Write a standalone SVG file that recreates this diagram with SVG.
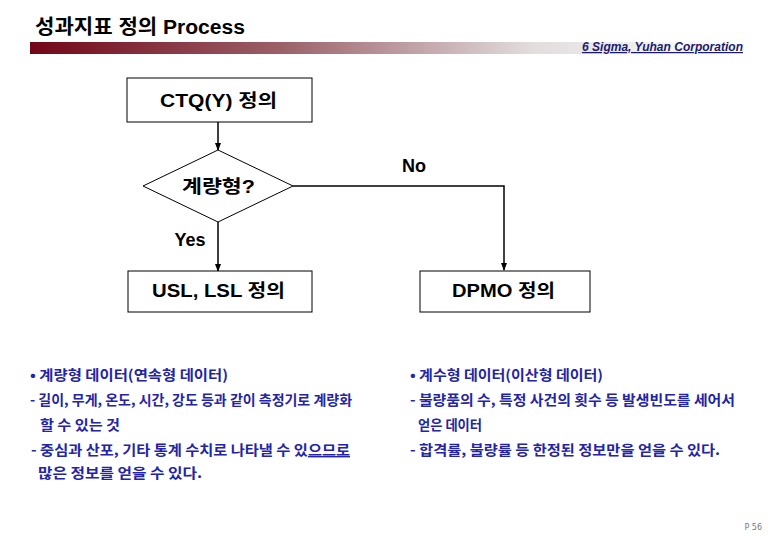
<svg xmlns="http://www.w3.org/2000/svg" width="780" height="540" viewBox="0 0 780 540">
<style>
.box{fill:#fff;stroke:#000;stroke-width:1}
.lbl{font-family:"Liberation Sans","Noto Sans CJK KR",sans-serif;font-size:18px;font-weight:bold;fill:#000;text-anchor:middle}
.edge{fill:none;stroke:#000;stroke-width:1.5}
.body{font-family:"Noto Sans CJK KR","Liberation Sans",sans-serif;font-size:14px;font-weight:bold;fill:#2424a6}
</style>
<defs>
<linearGradient id="bar" x1="0" y1="0" x2="1" y2="0">
<stop offset="0" stop-color="#720617"/>
<stop offset="0.35" stop-color="#9a6068"/>
<stop offset="0.7" stop-color="#e2dcdd"/>
<stop offset="1" stop-color="#ffffff"/>
</linearGradient>
<marker id="arr" markerWidth="8" markerHeight="8" refX="7" refY="4" orient="auto" markerUnits="userSpaceOnUse">
<path d="M0,1 L8,4 L0,7 Z" fill="#000"/>
</marker>
</defs>
<rect width="780" height="540" fill="#fff"/>
<text x="35" y="34" font-family="Liberation Sans,Noto Sans CJK KR,sans-serif" font-size="20" font-weight="bold" fill="#000" textLength="210" lengthAdjust="spacingAndGlyphs">성과지표 정의 Process</text>
<rect x="30" y="42" width="715" height="12" fill="url(#bar)"/>
<text x="743" y="51" text-anchor="end" font-family="Liberation Sans,sans-serif" font-size="12" font-style="italic" font-weight="bold" fill="#1a1a70" text-decoration="underline" textLength="161" lengthAdjust="spacingAndGlyphs">6 Sigma, Yuhan Corporation</text>
<g id="connectors">
<line class="edge" x1="218" y1="122" x2="218" y2="150" marker-end="url(#arr)"/>
<line class="edge" x1="218" y1="222" x2="218" y2="271" marker-end="url(#arr)"/>
<polyline class="edge" points="293,186 504,186 504,270" marker-end="url(#arr)"/>
<text x="414" y="172" class="lbl">No</text>
<text x="190" y="246" class="lbl">Yes</text>
</g>
<g id="ctq">
<rect class="box" x="127" y="78" width="185" height="44"/>
<text class="lbl" x="218.5" y="107" textLength="117" lengthAdjust="spacingAndGlyphs">CTQ(Y) 정의</text>
</g>
<g id="decision">
<polygon class="box" points="218,150 293,186 218,222 143,186"/>
<text class="lbl" x="218.5" y="193" textLength="73" lengthAdjust="spacingAndGlyphs">계량형?</text>
</g>
<g id="usl">
<rect class="box" x="128" y="271" width="184" height="41"/>
<text class="lbl" x="218.5" y="297" textLength="133" lengthAdjust="spacingAndGlyphs">USL, LSL 정의</text>
</g>
<g id="dpmo">
<rect class="box" x="420" y="271" width="170" height="41"/>
<text class="lbl" x="503.5" y="297" textLength="103" lengthAdjust="spacingAndGlyphs">DPMO 정의</text>
</g>
<g id="left-notes">
<text class="body" x="30" y="380" textLength="198" lengthAdjust="spacingAndGlyphs">• 계량형 데이터(연속형 데이터)</text>
<text class="body" x="30" y="405" textLength="322" lengthAdjust="spacingAndGlyphs">- 길이, 무게, 온도, 시간, 강도 등과 같이 측정기로 계량화</text>
<text class="body" x="40" y="430" textLength="80" lengthAdjust="spacingAndGlyphs">할 수 있는 것</text>
<text class="body" x="31" y="455" textLength="319" lengthAdjust="spacingAndGlyphs">- 중심과 산포, 기타 통계 수치로 나타낼 수 있<tspan text-decoration="underline">으므로</tspan></text>
<text class="body" x="38" y="478" textLength="164" lengthAdjust="spacingAndGlyphs">많은 정보를 얻을 수 있다.</text>
</g>
<g id="right-notes">
<text class="body" x="410" y="380" textLength="193" lengthAdjust="spacingAndGlyphs">• 계수형 데이터(이산형 데이터)</text>
<text class="body" x="410" y="405" textLength="325" lengthAdjust="spacingAndGlyphs">- 불량품의 수, 특정 사건의 횟수 등 발생빈도를 세어서</text>
<text class="body" x="418" y="430" textLength="64" lengthAdjust="spacingAndGlyphs">얻은 데이터</text>
<text class="body" x="410" y="455" textLength="310" lengthAdjust="spacingAndGlyphs">- 합격률, 불량률 등 한정된 정보만을 얻을 수 있다.</text>
</g>
<text x="762" y="530" text-anchor="end" font-family="DejaVu Sans,sans-serif" font-size="8" fill="#777">P 56</text>
</svg>
